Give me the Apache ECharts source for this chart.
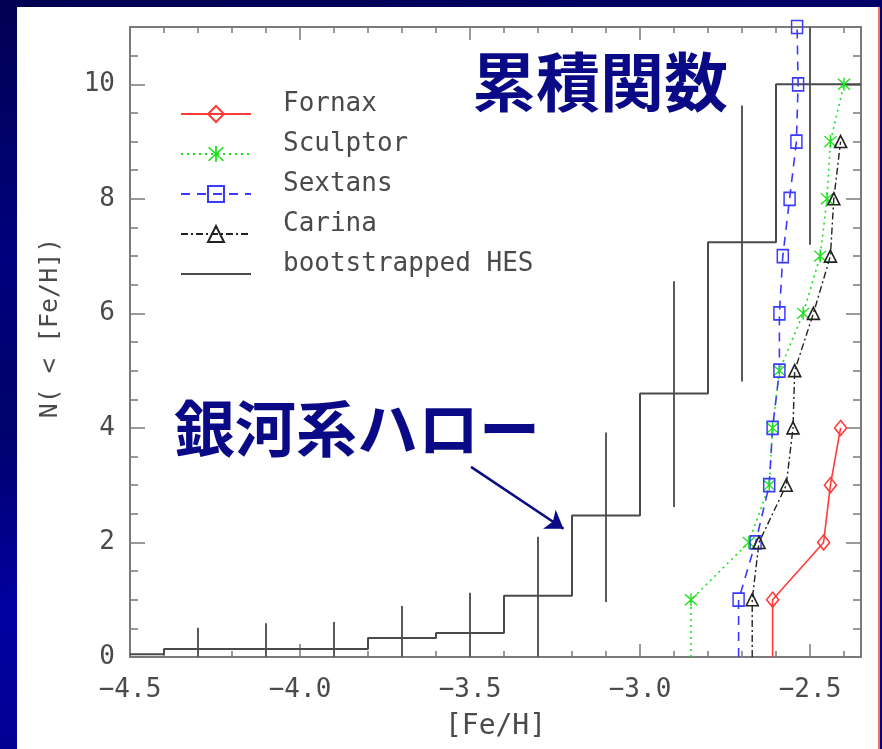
<!DOCTYPE html>
<html>
<head>
<meta charset="utf-8">
<script src="https://cdn.jsdelivr.net/npm/echarts@6/dist/echarts.min.js"></script>
<style>
  html, body {
    margin: 0; padding: 0; width: 882px; height: 749px; overflow: hidden;
    background: linear-gradient(172deg, #000052 0%, #00007e 30%, #00006a 48%, #0000a0 70%, #000088 100%);
  }
  #panel {
    position: absolute; left: 17px; top: 7px; width: 861px; height: 742px;
    background: #ffffff; border-right: 2px solid #f07070;
  }
  #chart { position: absolute; left: 0; top: 0; width: 882px; height: 749px; }
</style>
</head>
<body>
<div id="panel"></div>
<div id="chart"></div>
<script>
// Cumulative number of stars N(<[Fe/H]) in each dwarf spheroidal
const fornaxFeH   = [-2.61, -2.61, -2.46, -2.44, -2.41];
const fornaxN     = [0, 1, 2, 3, 4];
const sculptorFeH = [-2.85, -2.85, -2.68, -2.62, -2.61, -2.59, -2.52, -2.47, -2.45, -2.44, -2.40];
const sculptorN   = [0, 1, 2, 3, 4, 5, 6, 7, 8, 9, 10];
const sextansFeH  = [-2.71, -2.71, -2.66, -2.62, -2.61, -2.59, -2.59, -2.58, -2.56, -2.54, -2.535, -2.538];
const sextansN    = [0, 1, 2, 3, 4, 5, 6, 7, 8, 9, 10, 11];
const carinaFeH   = [-2.67, -2.67, -2.65, -2.57, -2.55, -2.545, -2.49, -2.44, -2.43, -2.41];
const carinaN     = [0, 1, 2, 3, 4, 5, 6, 7, 8, 9];

// Bootstrapped HES halo sample: bin edges and the cumulative level reached at each edge
const hesEdges  = [-4.5, -4.4, -3.8, -3.6, -3.4, -3.2, -3.0, -2.8, -2.6, -2.35];
const hesLevels = [0.05, 0.14, 0.33, 0.42, 1.07, 2.47, 4.60, 7.24, 10.0, 10.0];

// Bootstrap spread drawn at the bin centres
const hesBarFeH  = [-4.3, -4.1, -3.9, -3.7, -3.5, -3.3, -3.1, -2.9, -2.7, -2.5];
const hesBarLow  = [0, 0, 0, 0, 0, 0, 0.96, 2.62, 4.81, 7.20];
const hesBarHigh = [0.51, 0.59, 0.61, 0.89, 1.12, 2.10, 3.92, 6.56, 9.63, 11.0];

// Axis ranges
const feHRange   = [-4.5, -2.35];
const countRange = [0, 11];

// Annotation arrow (data coordinates) pointing at the halo curve
const haloArrow = { from: [-3.497, 3.32], to: [-3.225, 2.24] };

const FRAME = '#7a7a7a';
const TEXT = '#4a4a4a';
const MONO = '"DejaVu Sans Mono", monospace';
const NAVY = '#0a0a86';

const asterisk = 'path://M9,0H11V20H9Z M2.3,0.9L19.1,17.7L17.7,19.1L0.9,2.3Z M17.7,0.9L19.1,2.3L2.3,19.1L0.9,17.7Z';

function pairs(xs, ys) {
  return xs.map((x, i) => (ys[i] === 0 ? { value: [x, ys[i]], symbol: 'none' } : [x, ys[i]]));
}

const minus = s => s.replace('-', '\u2212');
const isMultiple = (v, step) => Math.abs(v / step - Math.round(v / step)) < 1e-6;

function xAxisDef(position, major) {
  return {
    type: 'value', position, min: feHRange[0], max: feHRange[1],
    interval: major ? 0.5 : 0.1,
    axisLine: { show: major, onZero: false, lineStyle: { color: FRAME, width: 2 } },
    axisTick: { show: true, inside: true, length: major ? 13 : 6, lineStyle: { color: FRAME, width: 1.5 } },
    axisLabel: {
      show: major && position === 'bottom', margin: 20,
      fontFamily: MONO, fontSize: 26, color: TEXT,
      formatter: v => (isMultiple(v, 0.5) ? minus(v.toFixed(1)) : '')
    },
    splitLine: { show: false },
    name: major && position === 'bottom' ? '[Fe/H]' : '',
    nameLocation: 'middle', nameGap: 56,
    nameTextStyle: { fontFamily: MONO, fontSize: 28, color: TEXT }
  };
}

function yAxisDef(position, major) {
  return {
    type: 'value', position, min: countRange[0], max: countRange[1],
    interval: major ? 2 : 0.5,
    axisLine: { show: major, onZero: false, lineStyle: { color: FRAME, width: 2 } },
    axisTick: { show: true, inside: true, length: major ? 15 : 8, lineStyle: { color: FRAME, width: 1.5 } },
    axisLabel: {
      show: major && position === 'left', margin: 15,
      fontFamily: MONO, fontSize: 26, color: TEXT,
      formatter: v => (isMultiple(v, 2) ? String(v) : '')
    },
    splitLine: { show: false }
  };
}

const chart = echarts.init(document.getElementById('chart'), null, { renderer: 'canvas' });

chart.setOption({
  animation: false,
  backgroundColor: 'transparent',
  grid: { left: 130, top: 27, width: 731, height: 630, containLabel: false },
  xAxis: [xAxisDef('bottom', true), xAxisDef('bottom', false), xAxisDef('top', true), xAxisDef('top', false)],
  yAxis: [yAxisDef('left', true), yAxisDef('left', false), yAxisDef('right', true), yAxisDef('right', false)],
  legend: {
    orient: 'vertical', left: 175, top: 86,
    itemWidth: 70, itemHeight: 20, itemGap: -6,
    selectedMode: false,
    data: ['Fornax', 'Sculptor', 'Sextans', 'Carina', 'bootstrapped HES'],
    // second blank line lifts the name above the sample line
    formatter: name => name + '\n ',
    textStyle: { fontFamily: MONO, fontSize: 26, color: TEXT, lineHeight: 20, padding: [5, 0, 0, 27] }
  },
  graphic: [
    {
      type: 'text', left: 472, top: 50, silent: true,
      style: { text: '累積関数', font: 'bold 64px "Noto Sans CJK JP"', fill: NAVY }
    },
    {
      type: 'text', left: 174, top: 398, silent: true,
      style: { text: '銀河系ハロー', font: 'bold 61px "Noto Sans CJK JP"', fill: NAVY }
    },
    {
      type: 'text', x: 50, y: 328, rotation: Math.PI / 2, silent: true,
      style: { text: 'N( < [Fe/H])', font: '25px "DejaVu Sans Mono"', fill: TEXT, align: 'center', verticalAlign: 'middle' }
    }
  ],
  series: [
    {
      type: 'custom', name: 'HES spread', xAxisIndex: 0, yAxisIndex: 0, silent: true, clip: true, z: 2,
      data: hesBarFeH.map((x, i) => [x, hesBarLow[i], hesBarHigh[i]]),
      renderItem: (params, api) => {
        const lo = api.coord([api.value(0), api.value(1)]);
        const hi = api.coord([api.value(0), api.value(2)]);
        return {
          type: 'line',
          shape: { x1: lo[0], y1: lo[1], x2: hi[0], y2: hi[1] },
          style: { stroke: '#5a5a5a', lineWidth: 2 }
        };
      }
    },
    {
      type: 'line', name: 'bootstrapped HES', xAxisIndex: 0, yAxisIndex: 0, z: 3,
      step: 'end', symbol: 'circle', showSymbol: false, silent: true,
      data: hesEdges.map((x, i) => [x, hesLevels[i]]),
      itemStyle: { color: 'transparent', borderWidth: 0 },
      lineStyle: { color: '#4a4a4a', width: 2 },
      markLine: {
        silent: true, symbol: ['none', 'arrow'], symbolSize: 17, animation: false,
        label: { show: false },
        itemStyle: { color: NAVY },
        lineStyle: { color: NAVY, width: 2.5, type: 'solid' },
        emphasis: { disabled: true },
        data: [[{ coord: haloArrow.from }, { coord: haloArrow.to }]]
      }
    },
    {
      type: 'line', name: 'Fornax', xAxisIndex: 0, yAxisIndex: 0, z: 5, silent: true,
      data: pairs(fornaxFeH, fornaxN),
      symbol: 'diamond', symbolSize: [12, 15],
      itemStyle: { color: 'transparent', borderColor: '#ff3b3b', borderWidth: 1.6 },
      lineStyle: { color: '#ff3b3b', width: 1.6, type: 'solid' }
    },
    {
      type: 'line', name: 'Sculptor', xAxisIndex: 0, yAxisIndex: 0, z: 5, silent: true,
      data: pairs(sculptorFeH, sculptorN),
      symbol: asterisk, symbolSize: 13,
      itemStyle: { color: '#1fe01f' },
      lineStyle: { color: '#1fe01f', width: 1.6, type: [2, 4] }
    },
    {
      type: 'line', name: 'Sextans', xAxisIndex: 0, yAxisIndex: 0, z: 5, silent: true,
      data: pairs(sextansFeH, sextansN),
      symbol: 'rect', symbolSize: [11, 13],
      itemStyle: { color: 'transparent', borderColor: '#3a3aff', borderWidth: 1.6 },
      lineStyle: { color: '#3a3aff', width: 1.6, type: [9, 7] }
    },
    {
      type: 'line', name: 'Carina', xAxisIndex: 0, yAxisIndex: 0, z: 5, silent: true,
      data: pairs(carinaFeH, carinaN),
      symbol: 'triangle', symbolSize: [12, 12],
      itemStyle: { color: 'transparent', borderColor: '#222', borderWidth: 1.6 },
      lineStyle: { color: '#222', width: 1.4, type: [7, 3, 2, 3] }
    }
  ]
});
</script>
</body>
</html>
